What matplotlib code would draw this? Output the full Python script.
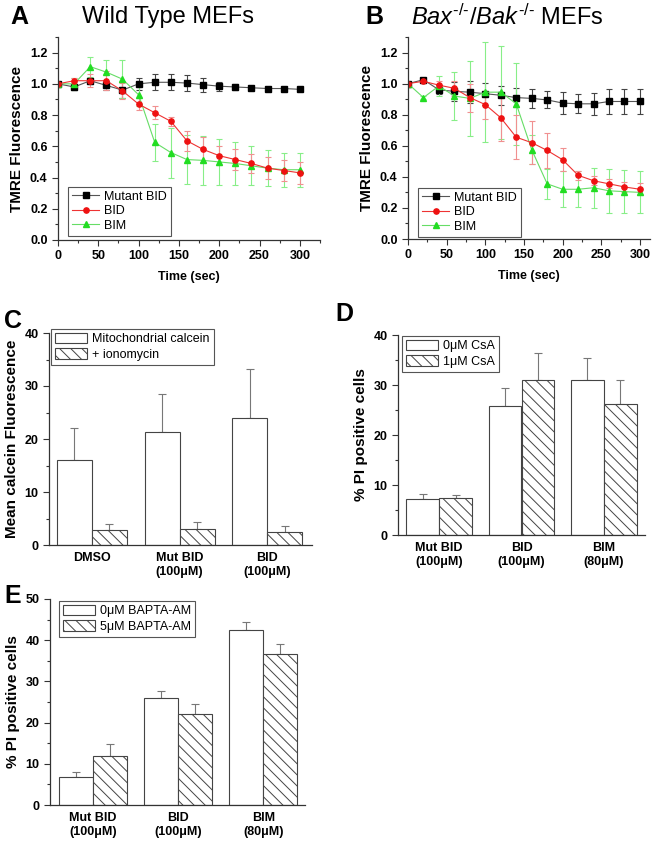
import numpy as np
import matplotlib
matplotlib.use('Agg')
import matplotlib.pyplot as plt
from matplotlib.patches import Patch
from matplotlib.lines import Line2D
from matplotlib.ticker import MultipleLocator

plt.rcParams['font.family'] = ['Liberation Sans', 'DejaVu Sans']
plt.rcParams['mathtext.fontset'] = 'custom'
plt.rcParams['mathtext.rm'] = 'Liberation Sans'
plt.rcParams['mathtext.it'] = 'Liberation Sans:italic'
plt.rcParams['hatch.linewidth'] = 0.7
plt.rcParams['hatch.color'] = '#444444'

# time course (sec)
time_sec = [0, 20, 40, 60, 80, 100, 120, 140, 160, 180, 200, 220, 240, 260, 280, 300]

# A: wild type MEFs
wt_mut = [1.0, 0.98, 1.02, 0.99, 0.96, 1.00, 1.01, 1.01, 1.005, 0.995, 0.985, 0.98, 0.975, 0.97, 0.97, 0.965]
wt_mut_err = [0.0, 0.02, 0.02, 0.03, 0.05, 0.04, 0.05, 0.05, 0.05, 0.045, 0.03, 0.02, 0.01, 0.01, 0.01, 0.01]
wt_bid = [1.0, 1.02, 1.02, 1.02, 0.955, 0.87, 0.815, 0.76, 0.635, 0.58, 0.54, 0.515, 0.49, 0.46, 0.445, 0.43]
wt_bid_err = [0.0, 0.02, 0.04, 0.06, 0.05, 0.04, 0.04, 0.03, 0.065, 0.08, 0.06, 0.065, 0.06, 0.07, 0.07, 0.07]
wt_bim = [1.0, 1.0, 1.11, 1.075, 1.03, 0.93, 0.625, 0.56, 0.515, 0.51, 0.50, 0.49, 0.475, 0.46, 0.45, 0.45]
wt_bim_err = [0.0, 0.04, 0.065, 0.08, 0.12, 0.07, 0.12, 0.16, 0.155, 0.155, 0.15, 0.135, 0.125, 0.115, 0.11, 0.11]

# B: Bax/Bak double knockout MEFs
dko_mut = [1.0, 1.025, 0.96, 0.95, 0.945, 0.935, 0.925, 0.91, 0.905, 0.895, 0.875, 0.87, 0.87, 0.885, 0.885, 0.885]
dko_mut_err = [0.0, 0.01, 0.03, 0.06, 0.07, 0.07, 0.06, 0.06, 0.06, 0.055, 0.07, 0.06, 0.07, 0.08, 0.08, 0.08]
dko_bid = [1.0, 1.015, 0.99, 0.97, 0.91, 0.865, 0.78, 0.655, 0.62, 0.57, 0.51, 0.41, 0.375, 0.355, 0.335, 0.32]
dko_bid_err = [0.0, 0.01, 0.03, 0.05, 0.09, 0.09, 0.15, 0.14, 0.14, 0.115, 0.075, 0.03, 0.03, 0.03, 0.03, 0.04]
dko_bim = [1.0, 0.91, 0.985, 0.92, 0.905, 0.945, 0.945, 0.87, 0.575, 0.355, 0.32, 0.32, 0.33, 0.31, 0.305, 0.30]
dko_bim_err = [0.0, 0.01, 0.065, 0.155, 0.24, 0.32, 0.30, 0.265, 0.095, 0.095, 0.115, 0.115, 0.13, 0.14, 0.14, 0.135]

# C: calcein
calc_groups = ['DMSO', 'Mut BID\n(100\u03bcM)', 'BID\n(100\u03bcM)']
calc_mito = [16.1, 21.4, 23.9]
calc_mito_err = [5.9, 7.1, 9.3]
calc_iono = [2.8, 3.1, 2.4]
calc_iono_err = [1.2, 1.3, 1.1]

# D: CsA
pi_groups = ['Mut BID\n(100\u03bcM)', 'BID\n(100\u03bcM)', 'BIM\n(80\u03bcM)']
csa_0 = [7.3, 25.8, 31.0]
csa_0_err = [1.0, 3.6, 4.4]
csa_1 = [7.5, 31.1, 26.2]
csa_1_err = [0.6, 5.3, 4.8]

# E: BAPTA-AM
bapta_0 = [6.7, 26.0, 42.4]
bapta_0_err = [1.2, 1.6, 1.9]
bapta_5 = [11.8, 22.2, 36.6]
bapta_5_err = [2.9, 2.4, 2.4]

W, H = 661, 842
fig = plt.figure(figsize=(W / 100, H / 100), dpi=100)


def add_ax(left, top, right, bottom):
    return fig.add_axes([left / W, 1 - bottom / H, (right - left) / W, (bottom - top) / H])


def style_ax(ax):
    for s in ['top', 'right']:
        ax.spines[s].set_visible(False)
    for s in ['left', 'bottom']:
        ax.spines[s].set_color('#333333')
        ax.spines[s].set_linewidth(0.9)
    ax.tick_params(which='both', direction='out', color='#333333', width=0.8)
    ax.tick_params(which='major', length=4, labelsize=9)
    ax.tick_params(which='minor', length=2)
    for lab in ax.get_xticklabels() + ax.get_yticklabels():
        lab.set_fontweight('bold')


def line_panel(ax, series, xmax, leg_xy):
    handles = {}
    for vals, errs, label, mk, col, lcol, ecol in series:
        ax.errorbar(time_sec, vals, yerr=errs, color=lcol, marker=mk, ms=3.8,
                    mfc=col, mec=col, lw=0.8, ecolor=ecol, elinewidth=0.8,
                    capsize=2.5, capthick=0.8)
        handles[label] = Line2D([], [], color=lcol, marker=mk, ms=3.8, mfc=col, mec=col, lw=0.8)
    ax.set_xlim(0, xmax)
    ax.set_ylim(0, 1.3)
    ax.xaxis.set_major_locator(MultipleLocator(50))
    ax.xaxis.set_minor_locator(MultipleLocator(25))
    ax.yaxis.set_minor_locator(MultipleLocator(0.1))
    ax.set_yticks(np.arange(0, 1.21, 0.2))
    ax.set_yticklabels(['%.1f' % v for v in np.arange(0, 1.21, 0.2)])
    style_ax(ax)
    ax.set_xlabel('Time (sec)', fontsize=9, fontweight='bold', labelpad=6)
    ax.set_ylabel('TMRE Fluorescence', fontsize=11, fontweight='bold', labelpad=4)
    order = ['Mutant BID', 'BID', 'BIM']
    leg = ax.legend([handles[k] for k in order], order, loc='upper left',
                    bbox_to_anchor=(leg_xy[0] / W, 1 - leg_xy[1] / H),
                    bbox_transform=fig.transFigure, borderaxespad=0, fontsize=9,
                    fancybox=False, framealpha=1, edgecolor='#555555', numpoints=1,
                    handlelength=2.2, handletextpad=0.4, borderpad=0.3, labelspacing=0.2)
    leg.get_frame().set_linewidth(0.8)


def bar_panel(ax, groups, v1, e1, v2, e2, ymax, xlim, ylabel, leg_labels, leg_xy):
    x = np.arange(1, len(groups) + 1)
    w = 0.4
    ax.bar(x - w / 2, v1, w, color='white', edgecolor='#444444', lw=0.8, zorder=2)
    ax.bar(x + w / 2, v2, w, color='white', edgecolor='#444444', lw=0.8, hatch='\\\\\\', zorder=2)
    z = np.zeros(len(groups))
    ax.errorbar(x - w / 2, v1, yerr=[z, e1], fmt='none', ecolor='#777777', elinewidth=0.8,
                capsize=3, capthick=0.8, zorder=1)
    ax.errorbar(x + w / 2, v2, yerr=[z, e2], fmt='none', ecolor='#777777', elinewidth=0.8,
                capsize=3, capthick=0.8, zorder=1)
    ax.set_xlim(*xlim)
    ax.set_ylim(0, ymax)
    ax.yaxis.set_major_locator(MultipleLocator(10))
    ax.yaxis.set_minor_locator(MultipleLocator(5))
    ax.set_xticks(x)
    ax.set_xticklabels(groups)
    style_ax(ax)
    ax.tick_params(axis='x', which='both', length=0, pad=5)
    ax.set_ylabel(ylabel, fontsize=11, fontweight='bold', labelpad=4)
    handles = [Patch(facecolor='white', edgecolor='#444444', lw=0.8),
               Patch(facecolor='white', edgecolor='#444444', lw=0.8, hatch='\\\\\\')]
    leg = ax.legend(handles, leg_labels, loc='upper left',
                    bbox_to_anchor=(leg_xy[0] / W, 1 - leg_xy[1] / H),
                    bbox_transform=fig.transFigure, borderaxespad=0, fontsize=9,
                    fancybox=False, framealpha=1, edgecolor='#555555',
                    handlelength=2.6, handleheight=0.9, handletextpad=0.4,
                    borderpad=0.3, labelspacing=0.25)
    leg.get_frame().set_linewidth(0.8)


# panel A
axA = add_ax(58, 37, 320, 240)
line_panel(axA, [
    (wt_mut, wt_mut_err, 'Mutant BID', 's', 'black', '#555555', '#444444'),
    (wt_bim, wt_bim_err, 'BIM', '^', '#22dd22', '#66dd66', '#88ee88'),
    (wt_bid, wt_bid_err, 'BID', 'o', '#ee1111', '#ee3333', '#f09090'),
], 325, (68, 187))

# panel B
axB = add_ax(408, 37, 650, 239)
line_panel(axB, [
    (dko_mut, dko_mut_err, 'Mutant BID', 's', 'black', '#555555', '#444444'),
    (dko_bim, dko_bim_err, 'BIM', '^', '#22dd22', '#66dd66', '#88ee88'),
    (dko_bid, dko_bid_err, 'BID', 'o', '#ee1111', '#ee3333', '#f09090'),
], 313, (418, 188))

# panel C
axC = add_ax(49, 333, 312, 545)
bar_panel(axC, calc_groups, calc_mito, calc_mito_err, calc_iono, calc_iono_err, 40,
          (0.51, 3.51), 'Mean calcein Fluorescence',
          ['Mitochondrial calcein', '+ ionomycin'], (51, 329))

# panel D
axD = add_ax(398, 335, 645, 535)
bar_panel(axD, pi_groups, csa_0, csa_0_err, csa_1, csa_1_err, 40,
          (0.5, 3.5), '% PI positive cells',
          ['0\u03bcM CsA', '1\u03bcM CsA'], (402, 336))

# panel E
axE = add_ax(50, 599, 305, 805)
bar_panel(axE, pi_groups, bapta_0, bapta_0_err, bapta_5, bapta_5_err, 50,
          (0.494, 3.49), '% PI positive cells',
          ['0\u03bcM BAPTA-AM', '5\u03bcM BAPTA-AM'], (59, 601))

# titles and panel letters
fig.text(10 / W, 1 - 17 / H, 'A', fontsize=18, fontweight='bold', va='center')
fig.text(82 / W, 1 - 17 / H, 'Wild Type MEFs', fontsize=17, va='center')
fig.text(365 / W, 1 - 17 / H, 'B', fontsize=18, fontweight='bold', va='center')
fig.text(411 / W, 1 - 17 / H,
         '$\\mathit{Bax}^{\\mathrm{\u2010/\u2010}}/\\mathit{Bak}^{\\mathrm{\u2010/\u2010}}$ MEFs',
         fontsize=17, va='center')
fig.text(4 / W, 1 - 321 / H, 'C', fontsize=18, fontweight='bold', va='center')
fig.text(335 / W, 1 - 314 / H, 'D', fontsize=18, fontweight='bold', va='center')
fig.text(4 / W, 1 - 596 / H, 'E', fontsize=18, fontweight='bold', va='center')

fig.savefig('out.png', dpi=100)
